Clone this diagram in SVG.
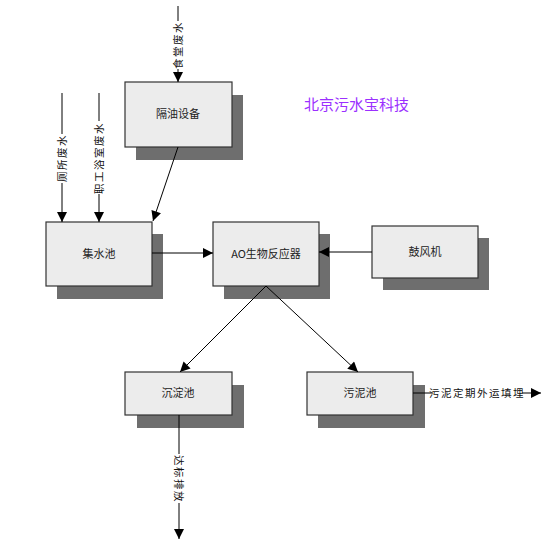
<svg xmlns="http://www.w3.org/2000/svg" width="550" height="546" viewBox="0 0 550 546">
<defs>
<marker id="ahb" viewBox="0 0 10 10" refX="10" refY="5" markerWidth="14" markerHeight="10" markerUnits="userSpaceOnUse" orient="auto"><path d="M0,0 L10,5 L0,10 z" fill="#000"/></marker>
</defs>
<style>
.sh{fill:#6e6e6e}
.bx{fill:#ececec;stroke:#333;stroke-width:1.2}
.lb{font-family:"Noto Sans CJK SC","Liberation Sans",sans-serif;font-size:11px;fill:#222;text-anchor:middle}
.ln{stroke:#000;stroke-width:1;fill:none}
.lt{font-family:"Noto Sans CJK SC","Liberation Sans",sans-serif;font-size:10.5px;fill:#111;text-anchor:middle;letter-spacing:1.5px}
.bg{fill:#fff}
</style>
<rect width="550" height="546" fill="#fff"/>
<g id="geyou">
<rect class="sh" x="136" y="95" width="107" height="65"/>
<rect class="bx" x="125" y="82" width="107" height="65"/>
<text class="lb" x="178" y="118">隔油设备</text>
</g>
<g id="jishui">
<rect class="sh" x="57" y="234" width="106" height="65"/>
<rect class="bx" x="46" y="222" width="106" height="64"/>
<text class="lb" x="99" y="258">集水池</text>
</g>
<g id="ao">
<rect class="sh" x="224" y="234" width="106" height="65"/>
<rect class="bx" x="213" y="222" width="106" height="64"/>
<text class="lb" x="266" y="258">AO生物反应器</text>
</g>
<g id="gufeng">
<rect class="sh" x="383" y="238" width="106" height="52"/>
<rect class="bx" x="372" y="226" width="106" height="52"/>
<text class="lb" x="425" y="256">鼓风机</text>
</g>
<g id="chendian">
<rect class="sh" x="137" y="385" width="107" height="43"/>
<rect class="bx" x="125" y="372" width="107" height="43"/>
<text class="lb" x="178" y="397">沉淀池</text>
</g>
<g id="wuni">
<rect class="sh" x="318" y="385" width="107" height="43"/>
<rect class="bx" x="307" y="372" width="106" height="43"/>
<text class="lb" x="360" y="397">污泥池</text>
</g>
<g id="connectors">
<line class="ln" x1="178" y1="6" x2="178" y2="82" marker-end="url(#ahb)"/>
<line class="ln" x1="62" y1="93" x2="62" y2="222" marker-end="url(#ahb)"/>
<line class="ln" x1="99" y1="93" x2="99" y2="222" marker-end="url(#ahb)"/>
<line class="ln" x1="178" y1="147" x2="153" y2="221" marker-end="url(#ahb)"/>
<line class="ln" x1="152" y1="253" x2="213" y2="253" marker-end="url(#ahb)"/>
<line class="ln" x1="372" y1="252" x2="319" y2="252" marker-end="url(#ahb)"/>
<line class="ln" x1="266" y1="286" x2="180" y2="372" marker-end="url(#ahb)"/>
<line class="ln" x1="266" y1="286" x2="358" y2="372" marker-end="url(#ahb)"/>
<line class="ln" x1="179" y1="415" x2="179" y2="539" marker-end="url(#ahb)"/>
<line class="ln" x1="413" y1="393" x2="541" y2="393" marker-end="url(#ahb)"/>
<rect class="bg" x="172" y="21" width="12" height="48"/>
<text class="lt" transform="translate(182,45) rotate(-90)">食堂废水</text>
<rect class="bg" x="56" y="134" width="12" height="49"/>
<text class="lt" transform="translate(66,158) rotate(-90)">厕所废水</text>
<rect class="bg" x="93" y="121" width="12" height="73"/>
<text class="lt" transform="translate(103,158) rotate(-90)">职工浴室废水</text>
<rect class="bg" x="173" y="454" width="12" height="49"/>
<text class="lt" transform="translate(175,479) rotate(90)">达标排放</text>
<rect class="bg" x="433" y="386" width="89" height="14"/>
<text class="lt" x="477" y="397">污泥定期外运填埋</text>
</g>
<text x="304" y="110" font-family="Noto Sans CJK SC, sans-serif" font-size="15" fill="#9b30ff">北京污水宝科技</text>
</svg>
